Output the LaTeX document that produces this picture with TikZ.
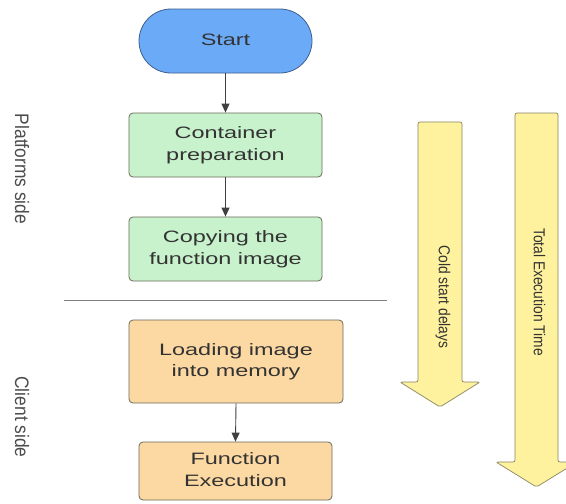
\documentclass[tikz,border=0pt]{standalone}
\usepackage{fontspec}
\setmainfont{Liberation Sans}
\usetikzlibrary{arrows.meta}
\definecolor{startblue}{HTML}{6AAAF7}
\definecolor{startedge}{HTML}{3D5F8C}
\definecolor{boxgreen}{HTML}{C8F2CC}
\definecolor{boxorange}{HTML}{FCD8A2}
\definecolor{boxedge}{HTML}{6B6B5A}
\definecolor{arrowyellow}{HTML}{FFF29E}
\definecolor{arrowedge}{HTML}{8A8560}
\definecolor{txt}{HTML}{333333}
\newcommand{\widetext}[1]{\scalebox{1.42}[1]{\begin{tabular}{@{}c@{}}#1\end{tabular}}}
\newcommand{\talltext}[2]{\scalebox{1}[#1]{#2}}
\tikzset{
  stepbox/.style={draw=boxedge, line width=0.8pt, rounded corners=4pt, align=center,
    text=txt, font=\fontsize{16.5}{21.5}\selectfont, inner sep=0pt},
  flow/.style={draw=black!75, line width=0.9pt, -{Triangle[length=9pt,width=8pt]}},
  bigarrow/.style={draw=arrowedge, fill=arrowyellow, line width=0.7pt, rounded corners=2pt},
  sidelabel/.style={rotate=-90, text=black!70, font=\fontsize{17.4}{20}\selectfont, inner sep=0pt},
  arrowlabel/.style={rotate=-90, text=txt, font=\fontsize{13.8}{16}\selectfont, inner sep=0pt}
}
\begin{document}
\begin{tikzpicture}[x=1pt,y=-1pt]
\useasboundingbox (0,0) rectangle (566,504);
\fill[white] (0,0) rectangle (566,504);

% nodes
\node[stepbox, draw=startedge, fill=startblue, rounded corners=32pt, minimum width=173pt, minimum height=64pt]
  (start) at (225.5,41) {\widetext{Start}};
\node[stepbox, fill=boxgreen, minimum width=193pt, minimum height=64pt] (cont) at (225.5,145) {\widetext{Container\\preparation}};
\node[stepbox, fill=boxgreen, minimum width=193pt, minimum height=64pt] (copy) at (225.5,249) {\widetext{Copying the\\function image}};
\node[stepbox, fill=boxorange, minimum width=214pt, minimum height=83pt] (load) at (236,361.5) {\widetext{Loading image\\into memory}};
\node[stepbox, fill=boxorange, minimum width=193pt, minimum height=58pt] (func) at (235.5,471) {\widetext{Function\\Execution}};

% connectors
\draw[flow] (start.south) -- (cont.north);
\draw[flow] (cont.south) -- (copy.north);
\draw[flow] (load.south) -- (func.north);

% separator
\coordinate (sepL) at (64,300);
\coordinate (sepR) at (387,300);
\draw[black!50, line width=0.9pt] (sepL) -- (sepR);

% side labels
\node[sidelabel] (plat) at (22,169) {\talltext{1.12}{Platforms side}};
\node[sidelabel] (client) at (22,417) {\talltext{1.12}{Client side}};

% big yellow arrows
\draw[bigarrow] (418,382) -- (418,122) -- (462,122) -- (462,382) -- (480,382) -- (440,407) -- (400,382) -- cycle;
\node[arrowlabel] (cold) at (443,297) {\talltext{1.15}{Cold start delays}};
\draw[bigarrow] (515,462) -- (515,113) -- (558,113) -- (558,462) -- (577,462) -- (536.5,487) -- (496,462) -- cycle;
\node[arrowlabel] (total) at (539.5,292) {\talltext{1.15}{Total Execution Time}};
\end{tikzpicture}
\end{document}
